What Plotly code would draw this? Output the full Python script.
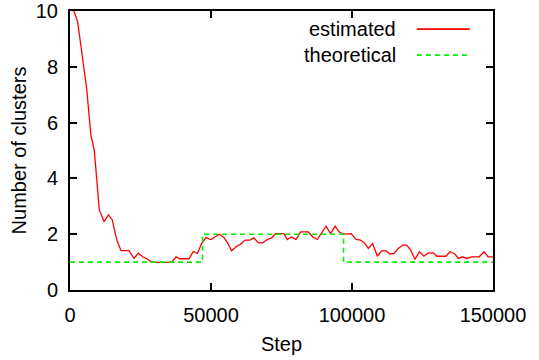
import plotly.graph_objects as go

# ---- data ----
est_steps = [1000, 1400, 2700, 4100, 5900, 7400, 8600, 10400, 12100, 13600, 15000,
             16600, 18100, 20900, 22700, 24200, 25800, 27400, 29000, 31000, 33000,
             36000, 37600, 39000, 42200, 43700, 45200, 46700, 48200, 50000, 51400,
             53000, 54400, 55900, 57300, 58900, 60500, 62000, 63800, 65200, 66800,
             68300, 70000, 71500, 73000, 75900, 77000, 78600, 80100, 81800, 84500,
             86100, 87700, 89300, 90800, 92400, 94000, 95500, 97000, 99700, 101400,
             103000, 104400, 105800, 107300, 109000, 110500, 112100, 113500, 114900,
             116400, 118000, 119400, 120800, 122300, 123900, 125500, 127100, 128800,
             130200, 133300, 134800, 136500, 137700, 139200, 140700, 142400, 145100,
             146800, 148300, 150000]
est_values = [10.0, 10.0, 9.62, 8.48, 7.23, 5.56, 5.02, 2.87, 2.45, 2.69, 2.51,
              1.79, 1.41, 1.41, 1.13, 1.32, 1.19, 1.11, 0.99, 0.99, 0.99,
              0.99, 1.19, 1.12, 1.12, 1.38, 1.31, 1.67, 1.88, 1.81, 1.9,
              2.0, 1.9, 1.69, 1.4, 1.55, 1.64, 1.79, 1.79, 1.87, 1.69,
              1.69, 1.81, 1.87, 2.02, 2.02, 1.81, 1.9, 1.81, 2.08, 2.08,
              1.9, 1.81, 2.05, 2.29, 2.02, 2.29, 2.08, 2.0, 2.02, 1.81,
              1.79, 1.69, 1.49, 1.67, 1.21, 1.4, 1.4, 1.29, 1.31,
              1.49, 1.61, 1.61, 1.43, 1.1, 1.37, 1.21, 1.33, 1.33,
              1.21, 1.21, 1.37, 1.29, 1.13, 1.19, 1.13, 1.19, 1.19,
              1.37, 1.19, 1.19]

theo_steps = [0, 47000, 97000, 150000]
theo_values = [1, 2, 1, 1]

x_ticks = [0, 50000, 100000, 150000]
y_ticks = [0, 2, 4, 6, 8, 10]

series_names = ["estimated", "theoretical"]
RED = "#ff0000"
GREEN = "#00f000"
FONT = "Liberation Sans, Arial, Helvetica, sans-serif"

fig = go.Figure()
fig.add_trace(go.Scatter(x=est_steps, y=est_values, mode="lines",
                         line=dict(color=RED, width=1.3), name=series_names[0],
                         showlegend=False))
fig.add_trace(go.Scatter(x=theo_steps, y=theo_values, mode="lines",
                         line=dict(color=GREEN, width=1.6, dash="5px,4px", shape="hv"),
                         name=series_names[1], showlegend=False))

# gnuplot-style key (text right-aligned, sample line to the right)
key_y = [0.935, 0.842]
key_colors = [RED, GREEN]
key_dash = ["solid", "5px,4px"]
for name, ky, col, dsh in zip(series_names, key_y, key_colors, key_dash):
    fig.add_annotation(x=0.775, y=ky, xref="paper", yref="paper", text=name,
                       showarrow=False, xanchor="right", yanchor="middle",
                       font=dict(family=FONT, size=20, color="black"))
    fig.add_shape(type="line", xref="paper", yref="paper", x0=0.82, x1=0.945,
                  y0=ky, y1=ky, line=dict(color=col, width=1.6, dash=dsh))

axis_common = dict(showline=True, linecolor="black", linewidth=2, mirror="ticks",
                   ticks="inside", ticklen=7, tickwidth=2, tickcolor="black",
                   showgrid=False, zeroline=False, automargin=False,
                   tickfont=dict(family=FONT, size=20, color="black"))

fig.update_xaxes(range=[0, 150000], tickvals=x_ticks,
                 ticktext=[str(v) for v in x_ticks], ticklabelstandoff=6,
                 title=dict(text="Step", font=dict(family=FONT, size=20, color="black"),
                            standoff=12),
                 **axis_common)
fig.update_yaxes(range=[0, 10], tickvals=y_ticks,
                 ticktext=[str(v) for v in y_ticks], ticklabelstandoff=6,
                 title=dict(text="Number of clusters",
                            font=dict(family=FONT, size=20, color="black"), standoff=4),
                 **axis_common)

fig.update_layout(width=539, height=360, margin=dict(l=70, r=46, t=11, b=70),
                  plot_bgcolor="white", paper_bgcolor="white",
                  font=dict(family=FONT, size=20, color="black"))

fig.write_html("out.html")
